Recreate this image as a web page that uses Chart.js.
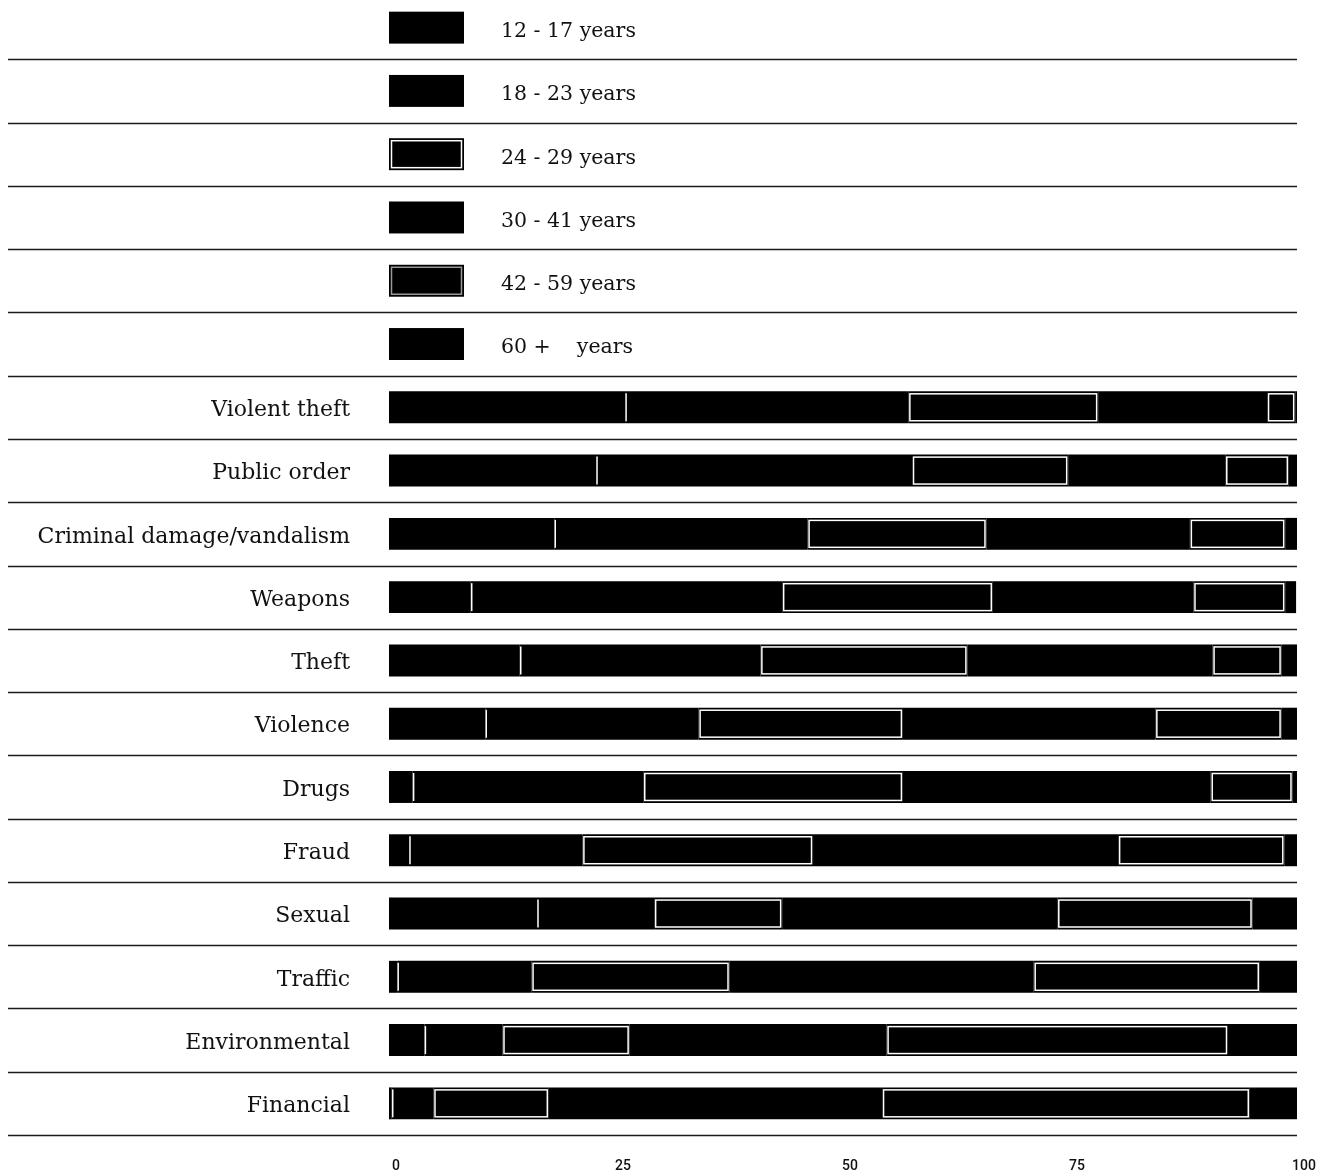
<!DOCTYPE html>
<html>
<head>
<meta charset="utf-8">
<script src="https://cdn.jsdelivr.net/npm/chart.js@4"></script>
<style>
  html, body { margin: 0; padding: 0; background: #fff; overflow: hidden; }
  #wrap { position: absolute; left: 0; top: -4px; }
</style>
</head>
<body>
<div id="wrap"><canvas id="chart" width="1337" height="1180"></canvas></div>
<script>
// offence categories, top to bottom
const categories = ['Violent theft', 'Public order', 'Criminal damage/vandalism', 'Weapons', 'Theft',
  'Violence', 'Drugs', 'Fraud', 'Sexual', 'Traffic', 'Environmental', 'Financial'];
const ageGroups = ['12 - 17 years', '18 - 23 years', '24 - 29 years', '30 - 41 years', '42 - 59 years', '60 +    years'];
const xTicks = [0, 25, 50, 75, 100];

// share of suspects per age group (%)
const age12_17 = [26.0, 22.8, 18.2, 9.0, 14.4, 10.6, 2.6, 2.2, 16.3, 0.9, 3.9, 0.3];
const age18_23 = [31.2, 34.8, 27.9, 34.3, 26.5, 23.5, 25.4, 19.1, 12.9, 14.8, 8.6, 4.6];
const age24_29 = [20.9, 17.2, 19.7, 23.2, 22.8, 22.5, 28.6, 25.4, 14.1, 21.8, 14.0, 12.7];
const age30_41 = [18.6, 17.3, 22.4, 22.1, 27.0, 27.8, 33.9, 33.6, 30.3, 33.5, 28.3, 36.7];
const age42_59 = [3.1, 7.0, 10.5, 10.1, 7.6, 13.9, 9.0, 18.3, 21.5, 24.9, 37.6, 40.5];
const age60plus = [0.2, 0.9, 1.4, 1.2, 1.7, 1.9, 0.5, 1.4, 5.0, 4.2, 7.7, 5.3];

const series = [age12_17, age18_23, age24_29, age30_41, age42_59, age60plus];
// the legend sits in the first six rows of the grid
const legendRows = ageGroups.map(() => '');
const rowLabels = legendRows.concat(categories);
const outlineColor = ['', '', '#fff', '', '#fff', ''];
const swatchOutline = ['', '', '#fff', '', '#999', ''];

const serif = 'DejaVu Serif';

const rowLines = {
  id: 'rowLines',
  beforeDatasetsDraw(chart) {
    const ctx = chart.ctx, y = chart.scales.y, area = chart.chartArea;
    const step = y.getPixelForValue(1) - y.getPixelForValue(0);
    ctx.save();
    ctx.strokeStyle = '#1a1a1a';
    ctx.lineWidth = 1.6;
    for (let i = 0; i < rowLabels.length; i++) {
      const py = Math.round(y.getPixelForValue(i) + step / 2) + 0.5;
      ctx.beginPath();
      ctx.moveTo(8, py);
      ctx.lineTo(area.right, py);
      ctx.stroke();
    }
    ctx.restore();
  }
};

const segmentMarks = {
  id: 'segmentMarks',
  afterDatasetsDraw(chart) {
    const ctx = chart.ctx;
    ctx.save();
    chart.data.datasets.forEach((ds, i) => {
      const meta = chart.getDatasetMeta(i);
      meta.data.forEach((el, j) => {
        if (ds.data[j] == null) return;
        const p = el.getProps(['x', 'y', 'base', 'height'], true);
        const top = p.y - p.height / 2, bottom = p.y + p.height / 2;
        if (i === 1) {
          ctx.strokeStyle = '#fff';
          ctx.lineWidth = 1.5;
          ctx.beginPath();
          ctx.moveTo(p.base + 1, top + 2);
          ctx.lineTo(p.base + 1, bottom - 2);
          ctx.stroke();
        }
        if (outlineColor[i]) {
          ctx.strokeStyle = outlineColor[i];
          ctx.lineWidth = 1.5;
          ctx.strokeRect(p.base + 1.5, top + 2.5, p.x - p.base - 3, p.height - 5);
        }
      });
    });
    ctx.restore();
  }
};

const ageLegend = {
  id: 'ageLegend',
  afterDatasetsDraw(chart) {
    const ctx = chart.ctx, y = chart.scales.y, x = chart.scales.x;
    const el = chart.getDatasetMeta(0).data[legendRows.length];
    const h = el.height;
    ctx.save();
    ageGroups.forEach((name, i) => {
      const cy = y.getPixelForValue(i);
      const left = x.left;
      ctx.fillStyle = '#000';
      ctx.fillRect(left, cy - h / 2, 75, h);
      if (swatchOutline[i]) {
        ctx.strokeStyle = swatchOutline[i];
        ctx.lineWidth = 1.5;
        ctx.strokeRect(left + 2.5, cy - h / 2 + 2.5, 70, h - 5);
      }
      ctx.fillStyle = '#111';
      ctx.font = '20.5px "' + serif + '"';
      ctx.textAlign = 'left';
      ctx.textBaseline = 'middle';
      ctx.fillText(name, left + 112, cy + 4);
    });
    ctx.restore();
  }
};

new Chart(document.getElementById('chart'), {
  type: 'bar',
  data: {
    labels: rowLabels,
    datasets: series.map((vals, i) => ({
      label: ageGroups[i],
      data: legendRows.map(() => null).concat(vals),
      backgroundColor: '#000',
      borderWidth: 0,
      categoryPercentage: 1,
      barPercentage: 0.505
    }))
  },
  options: {
    indexAxis: 'y',
    responsive: false,
    animation: false,
    layout: { padding: { left: 0, right: 40, top: 0, bottom: 0 } },
    plugins: {
      legend: { display: false },
      tooltip: { enabled: false }
    },
    scales: {
      x: {
        stacked: true,
        min: 0,
        max: 100,
        afterBuildTicks: (scale) => { scale.ticks = xTicks.map(v => ({ value: v })); },
        grid: { display: false, drawTicks: false },
        border: { display: false },
        afterFit: (scale) => {
          scale.height = 41;
          scale.paddingLeft = 0;
          scale.paddingRight = 0;
        },
        ticks: {
          color: '#111',
          padding: 23,
          labelOffset: 7,
          font: { family: 'Roboto', size: 14, weight: '500' }
        }
      },
      y: {
        stacked: true,
        grid: { display: false, drawTicks: false },
        border: { display: false },
        afterFit: (scale) => {
          scale.width = 389;
          scale.paddingTop = 0;
          scale.paddingBottom = 0;
        },
        ticks: {
          color: '#111',
          padding: 39,
          labelOffset: 3,
          autoSkip: false,
          font: { family: serif, size: 22 }
        }
      }
    }
  },
  plugins: [rowLines, segmentMarks, ageLegend]
});
</script>
</body>
</html>
